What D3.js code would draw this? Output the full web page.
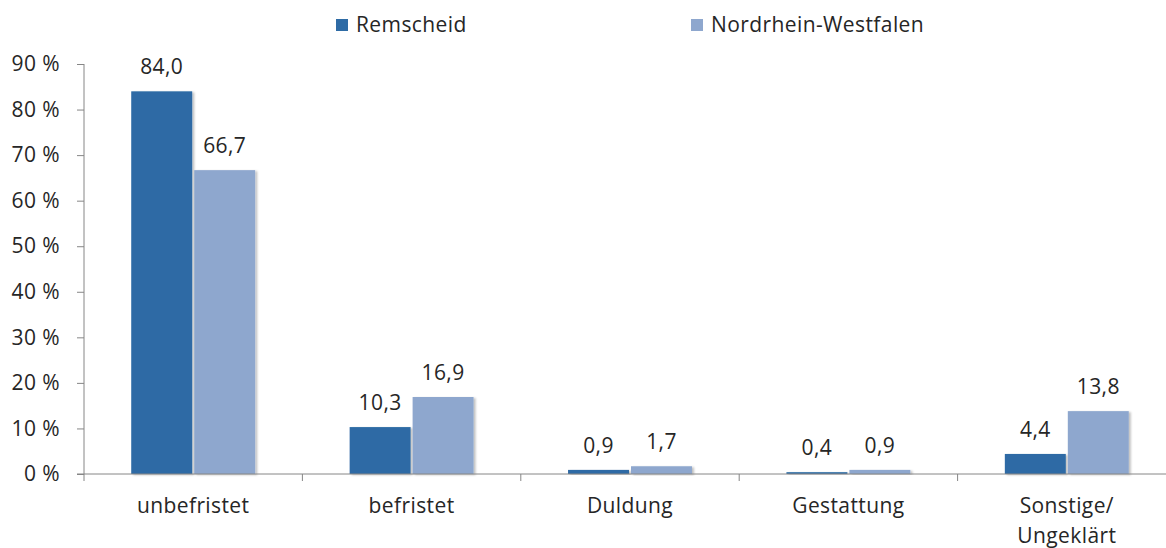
<!DOCTYPE html>
<html>
<head>
<meta charset="utf-8">
<script src="https://cdn.jsdelivr.net/npm/d3@7"></script>
<style>
  body { margin: 0; background: #fff; }
  text { font-family: "Open Sans", sans-serif; fill: #262626; letter-spacing: 0.4px; }
</style>
</head>
<body>
<script>
// Data
const categories = ['unbefristet', 'befristet', 'Duldung', 'Gestattung', 'Sonstige/\nUngeklärt'];
const seriesNames = ['Remscheid', 'Nordrhein-Westfalen'];
const remscheid = [84.0, 10.3, 0.9, 0.4, 4.4];
const nrw = [66.7, 16.9, 1.7, 0.9, 13.8];
const yTicks = [0, 10, 20, 30, 40, 50, 60, 70, 80, 90];
const colors = ['#2e6ba5', '#8ea7ce'];

const width = 1166, height = 548;

const svg = d3.select('body')
    .append('svg')
    .attr('width', width)
    .attr('height', height);

// Soft shadow like the office chart
const defs = svg.append('defs');
const f = defs.append('filter').attr('id', 'shadow')
    .attr('x', '-10%').attr('y', '-10%').attr('width', '130%').attr('height', '130%');
f.append('feDropShadow')
    .attr('dx', 2).attr('dy', 1).attr('stdDeviation', 1.2)
    .attr('flood-color', '#000').attr('flood-opacity', 0.25);

const x = d3.scaleBand()
    .domain(categories)
    .range([84, 1176]);

const x1 = d3.scaleBand()
    .domain(seriesNames)
    .range([0, x.bandwidth()])
    .paddingInner(0.032)
    .paddingOuter(0.75);

const y = d3.scaleLinear()
    .domain([0, 90])
    .range([474, 64]);

// Y axis
const yAxis = svg.append('g')
    .attr('transform', 'translate(84,0)')
    .call(d3.axisLeft(y)
        .tickValues(yTicks)
        .tickSize(7)
        .tickPadding(17)
        .tickFormat(d => d + ' %'));
yAxis.selectAll('line, path').attr('stroke', '#868686');
yAxis.select('.domain').attr('d', 'M0,' + y(90) + 'V' + y(0));
yAxis.selectAll('text')
    .style('font-size', '21px')
    .attr('fill', '#262626');

// Bars
const groups = svg.append('g')
    .selectAll('g')
    .data(categories.map((c, i) => ({ c, vals: [remscheid[i], nrw[i]] })))
    .join('g')
    .attr('transform', d => `translate(${x(d.c)},0)`);

groups.selectAll('rect')
    .data(d => d.vals.map((v, j) => ({ v, s: seriesNames[j], j })))
    .join('rect')
    .attr('x', d => x1(d.s))
    .attr('width', x1.bandwidth())
    .attr('y', d => y(d.v))
    .attr('height', d => y(0) - y(d.v))
    .attr('fill', d => colors[d.j])
    .attr('filter', 'url(#shadow)');

groups.selectAll('text.val')
    .data(d => d.vals.map((v, j) => ({ v, s: seriesNames[j], j })))
    .join('text')
    .attr('class', 'val')
    .attr('x', d => x1(d.s) + x1.bandwidth() / 2)
    .attr('y', d => y(d.v) - 17)
    .attr('text-anchor', 'middle')
    .style('font-size', '21px')
    .text(d => d3.format('.1f')(d.v).replace('.', ','));

// X axis
const xAxis = svg.append('g');
xAxis.append('line')
    .attr('x1', 77).attr('x2', 1176)
    .attr('y1', y(0)).attr('y2', y(0))
    .attr('stroke', '#868686');
xAxis.selectAll('line.tick')
    .data(categories.map(c => x(c)).concat([x.range()[1]]))
    .join('line')
    .attr('class', 'tick')
    .attr('x1', d => d).attr('x2', d => d)
    .attr('y1', y(0)).attr('y2', y(0) + 7)
    .attr('stroke', '#868686');

xAxis.selectAll('text')
    .data(categories)
    .join('text')
    .attr('x', d => x(d) + x.bandwidth() / 2)
    .attr('y', 513)
    .attr('text-anchor', 'middle')
    .style('font-size', '21px')
    .each(function (d) {
        const lines = d.split('\n');
        d3.select(this).selectAll('tspan')
            .data(lines)
            .join('tspan')
            .attr('x', x(d) + x.bandwidth() / 2)
            .attr('dy', (l, i) => i === 0 ? 0 : 30)
            .text(l => l);
    });

// Legend
const legendX = [336, 691];
const legend = svg.append('g')
    .selectAll('g')
    .data(seriesNames)
    .join('g')
    .attr('transform', (d, i) => `translate(${legendX[i]},0)`);
legend.append('rect')
    .attr('x', 0).attr('y', 19)
    .attr('width', 12).attr('height', 12)
    .attr('fill', (d, i) => colors[i]);
legend.append('text')
    .attr('x', 20).attr('y', 32)
    .style('font-size', '21px')
    .text(d => d);
</script>
</body>
</html>
